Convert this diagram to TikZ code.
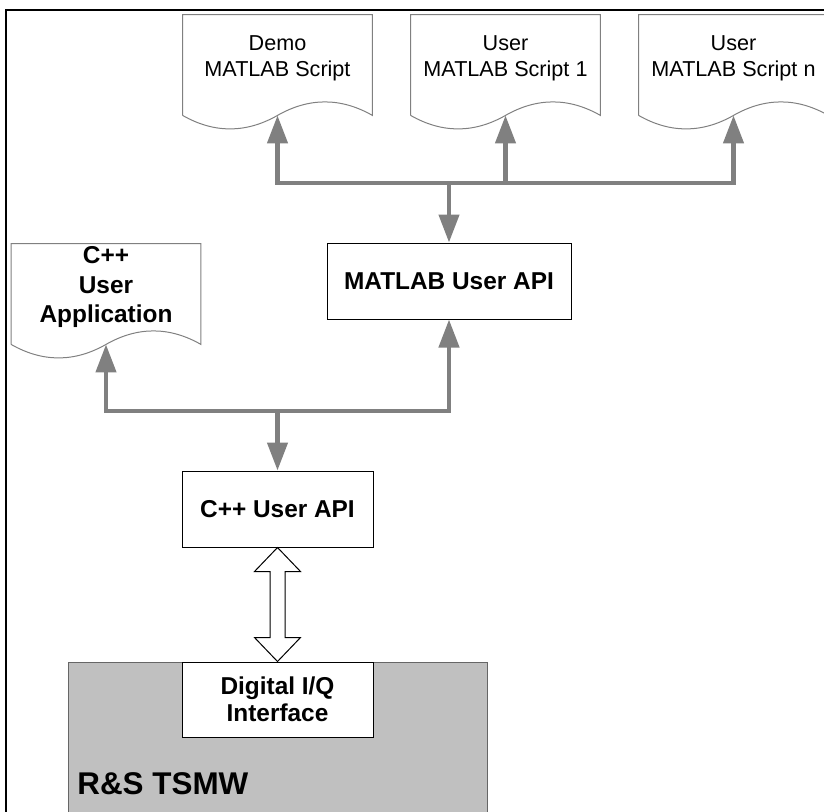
\documentclass[tikz,border=0pt]{standalone}
\usepackage{fontspec}
\setmainfont{Liberation Sans}
\usepackage{tikz}
\usetikzlibrary{arrows.meta,positioning,calc}
\definecolor{linegray}{RGB}{128,128,128}
\definecolor{boxgray}{RGB}{192,192,192}

% outline of a document shape round a node, wave at the bottom
\newcommand{\docoutline}[1]{%
  \draw[docline] ([yshift=-7pt]#1.south west) -- (#1.north west) -- (#1.north east)
    -- ([yshift=-7pt]#1.south east)
    .. controls +(-31.5,-18) and +(31.5,-18) .. ([yshift=-7pt]#1.south)
    .. controls +(-31.5,18) and +(31.5,18) .. ([yshift=-7pt]#1.south west);
  \coordinate (#1-w) at ([yshift=-7pt]#1.south);}

\begin{document}
\begin{tikzpicture}[x=0.5pt, y=-0.5pt,
    doc/.style={minimum width=94.5pt, minimum height=43pt, inner sep=0pt, align=center,
                font=\fontsize{10.8}{13}\selectfont},
    docline/.style={draw=linegray, line width=0.5pt},
    apibox/.style={rectangle, draw=black, line width=0.5pt, fill=white, minimum height=38pt,
                   inner sep=0pt, align=center, font=\bfseries\fontsize{12.2}{13.5}\selectfont},
    flow/.style={draw=linegray, line width=2.2pt, -{Triangle[width=10pt,length=14pt]}},
    hollow/.style={draw=black, line width=0.5pt, fill=white}
]
\useasboundingbox (0,0) rectangle (824,811);
\clip (0,0) rectangle (824,811);

% outer frame
\draw[line width=1.2pt] (6,830) -- (6,10) -- (830,10);

% scripts and application
\node[doc] (demo) at (277.5,58) {Demo\\MATLAB Script};
\node[doc] (scriptone) at (505.5,58) {User\\MATLAB Script 1};
\node[doc] (scriptn) at (733.5,58) {User\\MATLAB Script n};
\node[doc, font=\bfseries\fontsize{12.2}{14.8}\selectfont] (cppapp) at (106,287) {C++\\User\\Application};
\docoutline{demo}
\docoutline{scriptone}
\docoutline{scriptn}
\docoutline{cppapp}

% APIs
\node[apibox, minimum width=122pt] (matlabapi) at (449,281) {MATLAB User API};
\node[apibox, minimum width=95.5pt] (cppapi) at (277.5,509) {C++ User API};

% device
\node[draw=black!60, line width=0.6pt, fill=boxgray, anchor=north west, inner sep=0pt,
      minimum width=209.5pt, minimum height=100pt] (tsmw) at (68,662) {};
\node[anchor=base west, inner sep=0pt, font=\bfseries\fontsize{15.7}{18}\selectfont] (tsmwlabel) at (77,794) {R\&S TSMW};
\node[apibox, minimum width=95.5pt, minimum height=37.5pt] (digiq) at (277.5,699.5) {Digital I/Q\\Interface};

% connections
\coordinate (topbus) at (449,183);
\draw[flow] (topbus) -| (demo-w);
\draw[flow] (topbus -| scriptone-w) -- (scriptone-w);
\draw[flow] (topbus) -| (scriptn-w);
\draw[flow] (topbus) -- (matlabapi);

\coordinate (midbus) at (277.5,411);
\draw[flow] (midbus) -| (cppapp-w);
\draw[flow] (midbus) -| (matlabapi);
\draw[flow] (midbus) -- (cppapi);

\draw[hollow] (cppapi.south) -- ++(23,24) -- ++(-15.5,0) -- ($(digiq.north)+(7.5,-24)$)
  -- ++(15.5,0) -- (digiq.north) -- ++(-23,-24) -- ++(15.5,0)
  -- ($(cppapi.south)+(-7.5,24)$) -- ++(-15.5,0) -- cycle;

\end{tikzpicture}
\end{document}
